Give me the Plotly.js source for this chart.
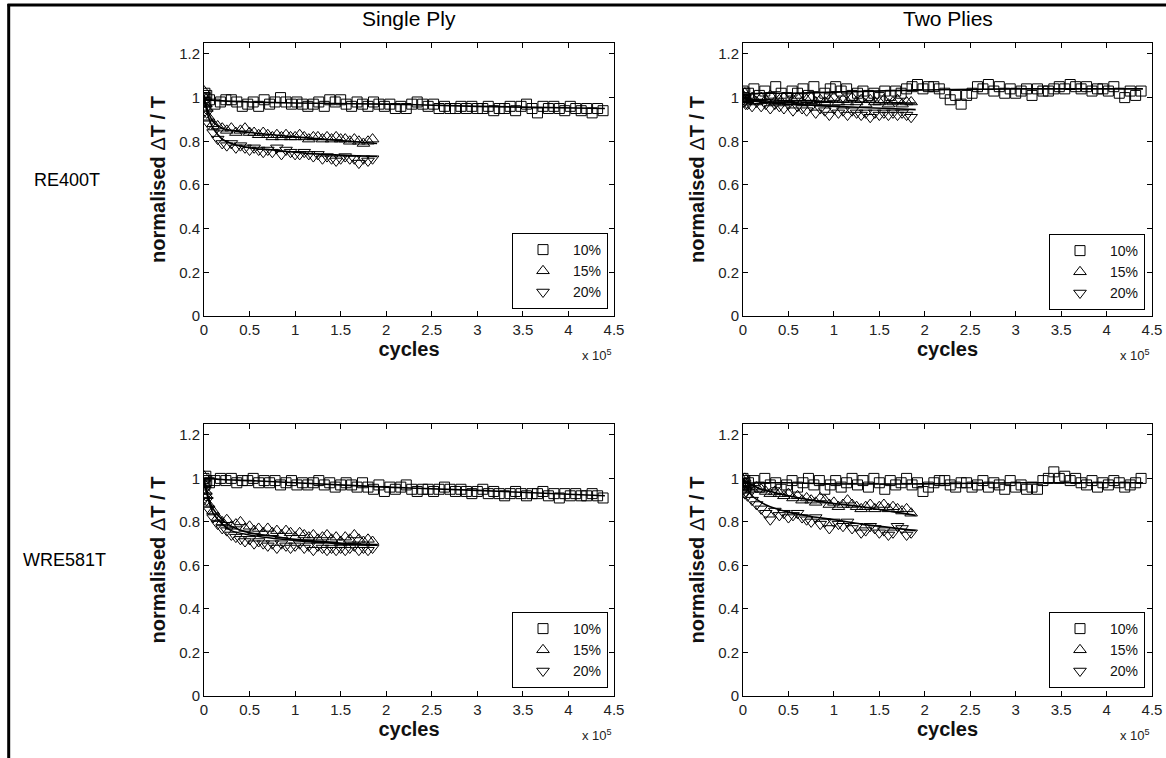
<!DOCTYPE html>
<html>
<head>
<meta charset="utf-8">
<script src="https://cdn.plot.ly/plotly-3.0.1.min.js"></script>
<style>
html,body{margin:0;padding:0;background:#fff;}
#chart{width:1166px;height:758px;}
</style>
</head>
<body>
<div id="chart"></div>
<script>
// ---------- DATA ----------
// cycles (x) sampling
const X10 = [0,1000,2000,3000,
  6000,12000,18000,24000,30000,36000,42000,48000,54000,60000,
  66000,72000,78000,84000,90000,96000,102000,108000,114000,120000,
  126000,132000,138000,144000,150000,156000,162000,168000,174000,180000,
  186000,192000,198000,204000,210000,216000,222000,228000,234000,240000,
  246000,252000,258000,264000,270000,276000,282000,288000,294000,300000,
  306000,312000,318000,324000,330000,336000,342000,348000,354000,360000,
  366000,372000,378000,384000,390000,396000,402000,408000,414000,420000,
  426000,432000,438000];
const X15 = [0,1000,2000,3000,
  5000,10000,15000,20000,25000,30000,35000,40000,45000,50000,
  55000,60000,65000,70000,75000,80000,85000,90000,95000,100000,
  105000,110000,115000,120000,125000,130000,135000,140000,145000,150000,
  155000,160000,165000,170000,175000,180000,185000];
const XF = [0,2000,5000,10000,20000,30000,50000,75000,100000,130000,160000,190000];
const XF10 = [0,5000,20000,50000,100000,200000,300000,440000];

const seriesNames = ['10%','15%','20%'];
const xTickVals = [0,50000,100000,150000,200000,250000,300000,350000,400000,450000];
const xTickText = ['0','0.5','1','1.5','2','2.5','3','3.5','4','4.5'];
const yTickVals = [0,0.2,0.4,0.6,0.8,1,1.2];
const yTickText = ['0','0.2','0.4','0.6','0.8','1','1.2'];
const colTitles = ['Single Ply','Two Plies'];
const rowTitles = ['RE400T','WRE581T'];

// RE400T, single ply
const re400_single_10 = [1.00,1.02,0.98,1.01,
  .99,.97,.98,.99,.99,.98,.96,.97,.98,.96,
  .99,.97,.98,1.00,.98,.97,.98,.97,.96,.97,
  .98,.96,.99,.98,.99,.97,.96,.98,.97,.96,
  .98,.97,.96,.97,.95,.96,.95,.97,.98,.97,
  .96,.97,.95,.96,.95,.95,.96,.95,.96,.95,
  .95,.96,.94,.95,.95,.96,.94,.96,.97,.95,
  .93,.96,.95,.96,.95,.94,.96,.95,.94,.95,
  .93,.95,.94];
const re400_single_15 = [1.03,1.00,0.97,0.95,
  .91,.88,.87,.86,.85,.86,.84,.85,.86,.84,
  .84,.83,.84,.83,.82,.83,.82,.83,.82,.82,
  .83,.82,.81,.82,.82,.81,.82,.81,.82,.81,
  .81,.80,.81,.80,.79,.80,.81];
const re400_single_20 = [1.01,0.98,0.95,0.93,
  .88,.84,.81,.79,.78,.79,.77,.78,.77,.76,
  .77,.76,.75,.76,.75,.77,.74,.76,.75,.74,
  .74,.75,.74,.73,.74,.72,.73,.72,.71,.72,
  .73,.72,.72,.70,.72,.71,.72];
const re400_single_fit10 = [1.0,.99,.985,.98,.975,.97,.96,.95];
const re400_single_fit15 = [1.0,.97,.93,.89,.86,.85,.84,.83,.82,.81,.80,.79];
const re400_single_fit20 = [1.0,.96,.91,.86,.81,.79,.77,.76,.75,.74,.735,.73];

// RE400T, two plies
const re400_two_10 = [1.03,1.00,1.02,0.99,
  1.02,1.04,1.01,1.03,1.00,1.05,1.02,1.00,1.03,1.02,
  1.04,1.01,1.05,1.00,1.02,1.04,1.05,1.03,1.04,1.01,
  1.02,1.03,1.01,1.02,1.00,1.03,1.01,1.03,1.02,1.04,
  1.05,1.06,1.04,1.05,1.05,1.04,1.02,0.99,1.01,0.97,
  1.01,1.02,1.05,1.04,1.06,1.03,1.05,1.02,1.04,1.02,
  1.03,1.04,1.01,1.04,1.03,1.03,1.04,1.05,1.04,1.06,
  1.05,1.04,1.05,1.03,1.04,1.04,1.03,1.05,1.02,1.00,
  1.03,1.01,1.03];
const re400_two_15 = [1.01,0.99,1.02,1.00,
  0.99,1.00,0.98,1.00,0.99,1.01,0.98,0.99,1.00,0.98,
  0.99,1.00,0.98,0.99,1.00,0.98,0.99,0.98,0.99,1.00,
  0.98,0.99,0.98,1.00,0.98,0.99,0.97,0.99,0.98,0.98,
  0.99,0.97,0.98,0.99,0.97,0.98,0.98];
const re400_two_20 = [0.99,0.98,1.00,0.97,
  0.97,0.96,0.98,0.96,0.97,0.95,0.97,0.96,0.95,0.97,
  0.94,0.96,0.95,0.94,0.96,0.93,0.95,0.94,0.92,0.95,
  0.93,0.94,0.92,0.94,0.93,0.92,0.93,0.91,0.93,0.92,
  0.93,0.92,0.93,0.92,0.93,0.92,0.91];
const re400_two_fit10 = [1.01,1.015,1.02,1.02,1.025,1.035,1.04,1.04];
const re400_two_fit15 = [1.0,1.0,.995,.99,.99,.99,.985,.985,.98,.98,.975,.975];
const re400_two_fit20 = [1.0,.995,.99,.985,.98,.975,.97,.965,.96,.955,.95,.945];

// WRE581T, single ply
const wre581_single_10 = [1.00,0.97,1.01,0.99,
  0.98,0.99,1.00,0.99,1.00,0.98,0.99,0.99,1.00,0.98,
  0.99,0.98,0.99,0.97,0.98,0.99,0.97,0.98,0.97,0.98,
  0.99,0.97,0.98,0.96,0.97,0.98,0.97,0.96,0.98,0.96,
  0.95,0.97,0.94,0.96,0.95,0.96,0.97,0.95,0.94,0.95,
  0.95,0.94,0.95,0.96,0.95,0.94,0.95,0.94,0.93,0.94,
  0.95,0.93,0.94,0.93,0.92,0.93,0.94,0.93,0.92,0.93,
  0.93,0.94,0.92,0.93,0.91,0.93,0.92,0.93,0.92,0.92,
  0.93,0.92,0.91];
const wre581_single_15 = [1.01,0.97,0.94,0.92,
  0.88,0.85,0.82,0.80,0.81,0.78,0.79,0.80,0.77,0.78,
  0.76,0.77,0.75,0.77,0.75,0.76,0.74,0.76,0.75,0.73,
  0.75,0.74,0.73,0.74,0.72,0.73,0.74,0.72,0.73,0.71,
  0.73,0.72,0.74,0.72,0.71,0.72,0.71];
const wre581_single_20 = [0.98,0.95,0.92,0.90,
  0.86,0.82,0.79,0.77,0.76,0.74,0.73,0.72,0.71,0.72,
  0.70,0.71,0.70,0.69,0.70,0.68,0.70,0.69,0.68,0.69,
  0.70,0.68,0.69,0.67,0.69,0.68,0.67,0.68,0.67,0.68,
  0.67,0.68,0.69,0.67,0.68,0.67,0.68];
const wre581_single_fit10 = [1.0,1.0,.995,.99,.98,.96,.945,.92];
const wre581_single_fit15 = [1.0,.96,.91,.86,.81,.78,.75,.735,.72,.71,.70,.695];
const wre581_single_fit20 = [1.0,.95,.90,.84,.79,.76,.74,.725,.715,.705,.698,.693];

// WRE581T, two plies
const wre581_two_10 = [1.00,0.97,0.99,0.96,
  0.98,0.99,0.96,1.00,0.97,0.98,0.95,0.97,0.99,0.96,
  0.98,1.00,0.97,0.99,0.95,0.97,0.99,0.96,0.98,1.00,
  0.97,0.99,0.96,1.00,0.98,0.95,0.99,0.97,0.98,1.00,
  0.97,0.98,0.94,0.96,0.98,0.99,0.99,0.97,0.96,0.98,
  0.98,0.96,0.97,0.99,0.96,0.98,0.97,0.95,0.99,0.96,
  0.97,0.95,0.96,0.95,0.99,1.00,1.03,1.00,1.01,0.99,
  1.00,0.98,0.97,0.99,0.96,0.98,0.97,0.99,0.98,0.96,
  0.97,0.98,1.00];
const wre581_two_15 = [0.99,0.97,1.00,0.96,
  0.96,0.95,0.96,0.95,0.94,0.93,0.94,0.93,0.92,0.93,
  0.91,0.92,0.90,0.91,0.90,0.89,0.91,0.90,0.88,0.89,
  0.87,0.88,0.90,0.88,0.87,0.86,0.87,0.88,0.86,0.87,
  0.88,0.86,0.87,0.86,0.85,0.86,0.84];
const wre581_two_20 = [0.97,0.95,0.93,0.94,
  0.92,0.90,0.88,0.86,0.84,0.81,0.85,0.83,0.84,0.82,
  0.83,0.84,0.82,0.81,0.80,0.82,0.79,0.80,0.77,0.80,
  0.79,0.78,0.80,0.77,0.78,0.75,0.76,0.78,0.77,0.75,
  0.76,0.74,0.75,0.78,0.77,0.74,0.75];
const wre581_two_fit10 = [.99,.98,.98,.98,.975,.975,.98,.98];
const wre581_two_fit15 = [1.0,.99,.98,.97,.95,.94,.92,.90,.885,.87,.85,.83];
const wre581_two_fit20 = [1.0,.98,.95,.92,.89,.87,.845,.825,.81,.79,.775,.76];

// ---------- LAYOUT GEOMETRY ----------
const W = 1166, H = 758;
const px = v => v / W;
const py = v => 1 - v / H;

const panels = [
  {xa:'x',  ya:'y',  leg:'legend',  d10:re400_single_10, d15:re400_single_15, d20:re400_single_20, f10:re400_single_fit10, f15:re400_single_fit15, f20:re400_single_fit20},
  {xa:'x2', ya:'y2', leg:'legend2', d10:re400_two_10, d15:re400_two_15, d20:re400_two_20, f10:re400_two_fit10, f15:re400_two_fit15, f20:re400_two_fit20},
  {xa:'x3', ya:'y3', leg:'legend3', d10:wre581_single_10, d15:wre581_single_15, d20:wre581_single_20, f10:wre581_single_fit10, f15:wre581_single_fit15, f20:wre581_single_fit20},
  {xa:'x4', ya:'y4', leg:'legend4', d10:wre581_two_10, d15:wre581_two_15, d20:wre581_two_20, f10:wre581_two_fit10, f15:wre581_two_fit15, f20:wre581_two_fit20}
];

const symbols = ['square-open','triangle-up-open','triangle-down-open'];
const traces = [];
panels.forEach(p => {
  const dsets = [[X10,p.d10],[X15,p.d15],[X15,p.d20]];
  dsets.forEach((d,i) => {
    traces.push({
      type:'scatter', mode:'markers', x:d[0], y:d[1], name:seriesNames[i],
      xaxis:p.xa, yaxis:p.ya, legend:p.leg,
      marker:{symbol:symbols[i], size:i===0?10:11, color:'#000', line:{width:1,color:'#000'}},
      hoverinfo:'x+y'
    });
  });
  const fits = [[XF10,p.f10],[XF,p.f15],[XF,p.f20]];
  fits.forEach((f,i) => {
    traces.push({
      type:'scatter', mode:'lines', x:f[0], y:f[1], name:seriesNames[i]+' fit',
      xaxis:p.xa, yaxis:p.ya, showlegend:false,
      line:{color:'#000', width:1.6, shape:'spline'}, hoverinfo:'skip'
    });
  });
});

const FONT = 'Liberation Sans, Arial, Helvetica, sans-serif';
const xDomL = [px(204), px(614)], xDomR = [px(743), px(1152)];
const yDomT = [py(316), py(43)], yDomB = [py(696), py(424)];

function xaxis(dom, anchor){
  return {domain:dom, anchor:anchor, range:[0,450000], tickvals:xTickVals, ticktext:xTickText,
    ticks:'inside', ticklen:5, tickcolor:'#000', showline:true, linecolor:'#000', linewidth:1,
    mirror:'ticks', showgrid:false, zeroline:false, tickfont:{family:FONT,size:15,color:'#222'},
    title:{text:'cycles', font:{family:FONT,size:20,color:'#111',weight:'bold'}, standoff:4}};
}
function yaxis(dom, anchor){
  return {domain:dom, anchor:anchor, range:[0,1.25], tickvals:yTickVals, ticktext:yTickText,
    ticks:'inside', ticklen:5, tickcolor:'#000', showline:true, linecolor:'#000', linewidth:1,
    mirror:'ticks', showgrid:false, zeroline:false, tickfont:{family:FONT,size:15,color:'#222'},
    title:{text:'normalised <span style="font-weight:normal">Δ</span>T / T', font:{family:FONT,size:20,color:'#111',weight:'bold'}, standoff:8}};
}
function legend(xr, yb){
  return {x:px(xr), y:py(yb), xanchor:'right', yanchor:'bottom', xref:'paper', yref:'paper',
    bgcolor:'#fff', bordercolor:'#000', borderwidth:1, font:{family:FONT,size:14,color:'#111'},
    itemwidth:50, tracegroupgap:0};
}

const annotations = [
  {text:colTitles[0], x:(xDomL[0]+xDomL[1])/2, y:py(18), xref:'paper', yref:'paper', xanchor:'center', yanchor:'middle', showarrow:false, font:{family:FONT,size:21,color:'#000'}},
  {text:colTitles[1], x:(xDomR[0]+xDomR[1])/2, y:py(18), xref:'paper', yref:'paper', xanchor:'center', yanchor:'middle', showarrow:false, font:{family:FONT,size:21,color:'#000'}},
  {text:rowTitles[0], x:px(67), y:py(180), xref:'paper', yref:'paper', xanchor:'center', yanchor:'middle', showarrow:false, font:{family:FONT,size:18,color:'#000'}},
  {text:rowTitles[1], x:px(64), y:py(560), xref:'paper', yref:'paper', xanchor:'center', yanchor:'middle', showarrow:false, font:{family:FONT,size:18,color:'#000'}},
  {text:'x 10<sup>5</sup>', x:px(614), y:py(355), xref:'paper', yref:'paper', xanchor:'right', yanchor:'middle', showarrow:false, font:{family:FONT,size:13,color:'#222'}},
  {text:'x 10<sup>5</sup>', x:px(1152), y:py(355), xref:'paper', yref:'paper', xanchor:'right', yanchor:'middle', showarrow:false, font:{family:FONT,size:13,color:'#222'}},
  {text:'x 10<sup>5</sup>', x:px(614), y:py(735), xref:'paper', yref:'paper', xanchor:'right', yanchor:'middle', showarrow:false, font:{family:FONT,size:13,color:'#222'}},
  {text:'x 10<sup>5</sup>', x:px(1152), y:py(735), xref:'paper', yref:'paper', xanchor:'right', yanchor:'middle', showarrow:false, font:{family:FONT,size:13,color:'#222'}}
];

const shapes = [
  {type:'line', xref:'paper', yref:'paper', x0:px(7.5), x1:1, y0:py(5), y1:py(5), line:{color:'#000', width:3}},
  {type:'line', xref:'paper', yref:'paper', x0:px(8.7), x1:px(8.7), y0:py(4), y1:0, line:{color:'#000', width:3}}
];

const layout = {
  width:W, height:H, margin:{l:0,r:0,t:0,b:0},
  paper_bgcolor:'#fff', plot_bgcolor:'#fff',
  font:{family:FONT, color:'#000'},
  xaxis:xaxis(xDomL,'y'), yaxis:yaxis(yDomT,'x'),
  xaxis2:xaxis(xDomR,'y2'), yaxis2:yaxis(yDomT,'x2'),
  xaxis3:xaxis(xDomL,'y3'), yaxis3:yaxis(yDomB,'x3'),
  xaxis4:xaxis(xDomR,'y4'), yaxis4:yaxis(yDomB,'x4'),
  legend:legend(608,309), legend2:legend(1145,310),
  legend3:legend(608,688), legend4:legend(1145,688),
  annotations:annotations, shapes:shapes, showlegend:true
};

Plotly.newPlot('chart', traces, layout, {displayModeBar:false, staticPlot:true});
</script>
</body>
</html>
